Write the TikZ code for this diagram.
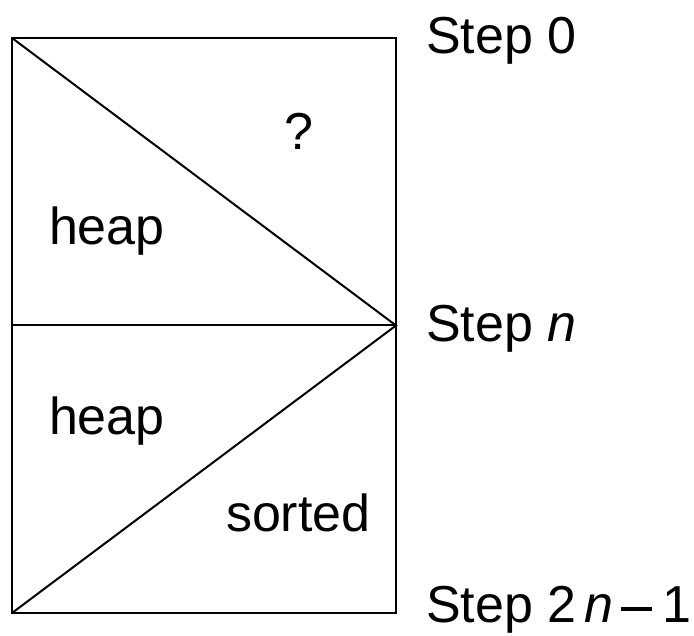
\documentclass[tikz,border=0pt]{standalone}
\usepackage{fontspec}
\setmainfont{Liberation Sans}
\begin{document}
\begin{tikzpicture}[x=1pt,y=-1pt,
  lbl/.style={anchor=base west,inner sep=0pt,outer sep=0pt,font=\fontsize{52}{56}\selectfont},
  edge/.style={line width=2pt,line join=miter}]
\useasboundingbox (0,0) rectangle (694,636);
\coordinate (tl) at (12,38);
\coordinate (tr) at (396,38);
\coordinate (ml) at (12,325.5);
\coordinate (mr) at (396,325.5);
\coordinate (bl) at (12,613);
\coordinate (br) at (396,613);
\draw[edge] (tl) rectangle (br);
\draw[edge] (ml) -- (mr);
\draw[edge] (tl) -- (mr) -- (bl);
\node[lbl] (s0) at (426,54) {Step 0};
\node[lbl] (sn) at (426,342) {Step \textit{n}};
\node[lbl] (s2n) at (426,622) {Step 2\hspace{8pt}\textit{n}\hspace{8pt}\rule[11pt]{31pt}{3.6pt}\hspace{10pt}1};
\node[lbl] (q) at (284,150) {?};
\node[lbl] (h1) at (49,245) {heap};
\node[lbl] (h2) at (49,435) {heap};
\node[lbl] (so) at (226,531) {sorted};
\end{tikzpicture}
\end{document}
